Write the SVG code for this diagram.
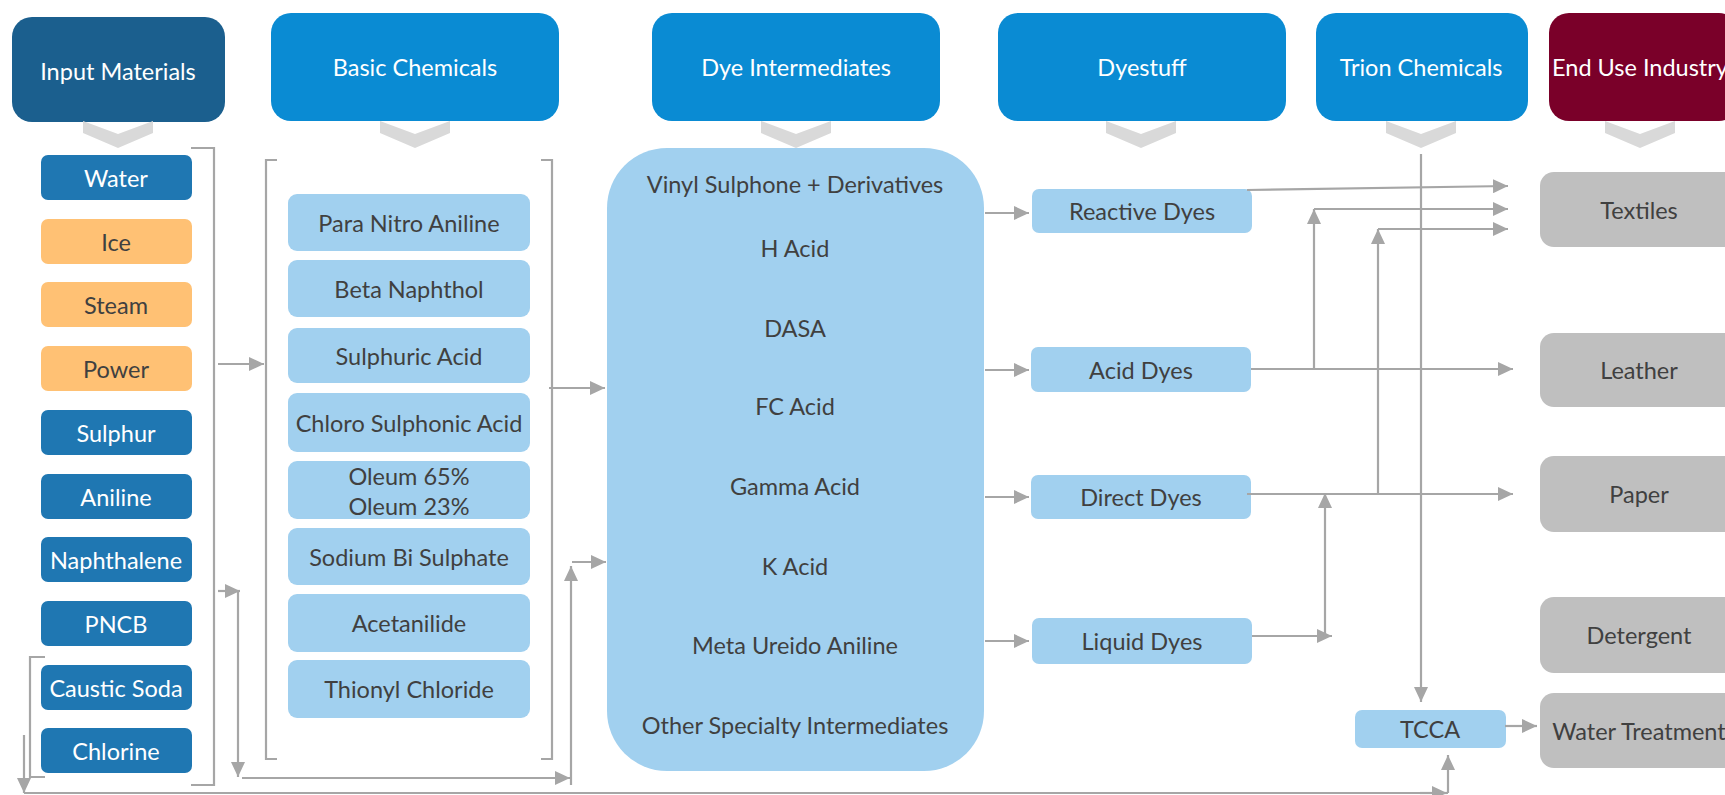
<svg xmlns="http://www.w3.org/2000/svg" width="1725" height="795" viewBox="0 0 1725 795">
<defs>
<style>
text{font-family:Lato,"Liberation Sans",sans-serif;font-size:23.5px;text-anchor:middle;dominant-baseline:central}
.hdr{fill:#ffffff}
.dk{fill:#404040}
.wt{fill:#ffffff}
.hb{fill:#0a8bd3}
.ib{fill:#1f77b2}
.or{fill:#ffc174}
.lb{fill:#a1d0ef}
.gr{fill:#bfbfbf}
.chev{fill:#d9d9d9}
.ln{fill:none;stroke:#a6a6a6;stroke-width:2.2}
.ar{fill:none;stroke:#a6a6a6;stroke-width:2.2;marker-end:url(#ah)}
</style>
<marker id="ah" markerUnits="userSpaceOnUse" markerWidth="16" markerHeight="14" refX="15" refY="7" orient="auto">
<path d="M0,0 L15,7 L0,14 z" fill="#a6a6a6"/>
</marker>
<polygon id="chv" points="0,0 35,13 70,0 70,12 35,27 0,12"/>
</defs>

<g id="headers">
<g id="h-input"><rect x="12" y="17" width="213" height="105" rx="20" fill="#1b5f8e"/><text x="118" y="71" class="hdr">Input Materials</text></g>
<g id="h-basic"><rect x="271" y="13" width="288" height="108" rx="20" class="hb"/><text x="415" y="67" class="hdr">Basic Chemicals</text></g>
<g id="h-dye"><rect x="652" y="13" width="288" height="108" rx="20" class="hb"/><text x="796" y="67" class="hdr">Dye Intermediates</text></g>
<g id="h-dyestuff"><rect x="998" y="13" width="288" height="108" rx="20" class="hb"/><text x="1142" y="67" class="hdr">Dyestuff</text></g>
<g id="h-trion"><rect x="1316" y="13" width="212" height="108" rx="20" class="hb"/><text x="1421" y="67" class="hdr">Trion Chemicals</text></g>
<g id="h-enduse"><rect x="1549" y="13" width="190" height="108" rx="20" fill="#7a0029"/><text x="1640" y="67" class="hdr">End Use Industry</text></g>
</g>

<g id="chevrons" class="chev">
<use href="#chv" x="83" y="121"/>
<use href="#chv" x="380" y="121"/>
<use href="#chv" x="761" y="121"/>
<use href="#chv" x="1106" y="121"/>
<use href="#chv" x="1386" y="121"/>
<use href="#chv" x="1605" y="121"/>
</g>

<g id="input-items">
<g id="water"><rect x="41" y="155" width="151" height="45" rx="7" class="ib"/><text x="116" y="177.5" class="wt">Water</text></g>
<g id="ice"><rect x="41" y="219" width="151" height="45" rx="7" class="or"/><text x="116" y="241.5" class="dk">Ice</text></g>
<g id="steam"><rect x="41" y="282" width="151" height="45" rx="7" class="or"/><text x="116" y="304.5" class="dk">Steam</text></g>
<g id="power"><rect x="41" y="346" width="151" height="45" rx="7" class="or"/><text x="116" y="368.5" class="dk">Power</text></g>
<g id="sulphur"><rect x="41" y="410" width="151" height="45" rx="7" class="ib"/><text x="116" y="432.5" class="wt">Sulphur</text></g>
<g id="aniline"><rect x="41" y="474" width="151" height="45" rx="7" class="ib"/><text x="116" y="496.5" class="wt">Aniline</text></g>
<g id="naphthalene"><rect x="41" y="537" width="151" height="45" rx="7" class="ib"/><text x="116" y="559.5" class="wt">Naphthalene</text></g>
<g id="pncb"><rect x="41" y="601" width="151" height="45" rx="7" class="ib"/><text x="116" y="623.5" class="wt">PNCB</text></g>
<g id="caustic"><rect x="41" y="665" width="151" height="45" rx="7" class="ib"/><text x="116" y="687.5" class="wt">Caustic Soda</text></g>
<g id="chlorine"><rect x="41" y="728" width="151" height="45" rx="7" class="ib"/><text x="116" y="750.5" class="wt">Chlorine</text></g>
</g>

<g id="basic-items">
<g id="pna"><rect x="288" y="194" width="242" height="57" rx="9" class="lb"/><text x="409" y="222.5" class="dk">Para Nitro Aniline</text></g>
<g id="beta"><rect x="288" y="260" width="242" height="57" rx="9" class="lb"/><text x="409" y="288.5" class="dk">Beta Naphthol</text></g>
<g id="sulphuric"><rect x="288" y="328" width="242" height="55" rx="9" class="lb"/><text x="409" y="355.5" class="dk">Sulphuric Acid</text></g>
<g id="chloro"><rect x="288" y="393" width="242" height="59" rx="9" class="lb"/><text x="409" y="422.5" class="dk">Chloro Sulphonic Acid</text></g>
<g id="oleum"><rect x="288" y="461" width="242" height="58" rx="9" class="lb"/><text x="409" y="476" class="dk">Oleum 65%</text><text x="409" y="506" class="dk">Oleum 23%</text></g>
<g id="sodium"><rect x="288" y="528" width="242" height="57" rx="9" class="lb"/><text x="409" y="556.5" class="dk">Sodium Bi Sulphate</text></g>
<g id="acetanilide"><rect x="288" y="594" width="242" height="58" rx="9" class="lb"/><text x="409" y="623" class="dk">Acetanilide</text></g>
<g id="thionyl"><rect x="288" y="660" width="242" height="58" rx="9" class="lb"/><text x="409" y="689" class="dk">Thionyl Chloride</text></g>
</g>

<g id="dye-intermediates">
<rect x="607" y="148" width="377" height="623" rx="60" class="lb"/>
<text x="795" y="184" class="dk">Vinyl Sulphone + Derivatives</text>
<text x="795" y="248" class="dk">H Acid</text>
<text x="795" y="328" class="dk">DASA</text>
<text x="795" y="406" class="dk">FC Acid</text>
<text x="795" y="486" class="dk">Gamma Acid</text>
<text x="795" y="566" class="dk">K Acid</text>
<text x="795" y="645" class="dk">Meta Ureido Aniline</text>
<text x="795" y="725" class="dk">Other Specialty Intermediates</text>
</g>

<g id="dyestuff-items">
<g id="reactive"><rect x="1032" y="189" width="220" height="44" rx="7" class="lb"/><text x="1142" y="211" class="dk">Reactive Dyes</text></g>
<g id="acid"><rect x="1031" y="347" width="220" height="45" rx="7" class="lb"/><text x="1141" y="369.5" class="dk">Acid Dyes</text></g>
<g id="direct"><rect x="1031" y="475" width="220" height="44" rx="7" class="lb"/><text x="1141" y="497" class="dk">Direct Dyes</text></g>
<g id="liquid"><rect x="1032" y="618" width="220" height="46" rx="7" class="lb"/><text x="1142" y="641" class="dk">Liquid Dyes</text></g>
</g>

<g id="tcca"><rect x="1355" y="710" width="151" height="38" rx="7" class="lb"/><text x="1430" y="729" class="dk">TCCA</text></g>

<g id="end-use">
<g id="textiles"><rect x="1540" y="172" width="200" height="75" rx="14" class="gr"/><text x="1639" y="209.5" class="dk">Textiles</text></g>
<g id="leather"><rect x="1540" y="333" width="200" height="74" rx="14" class="gr"/><text x="1639" y="370" class="dk">Leather</text></g>
<g id="paper"><rect x="1540" y="456" width="200" height="76" rx="14" class="gr"/><text x="1639" y="494" class="dk">Paper</text></g>
<g id="detergent"><rect x="1540" y="597" width="200" height="76" rx="14" class="gr"/><text x="1639" y="635" class="dk">Detergent</text></g>
<g id="water-treatment"><rect x="1540" y="693" width="200" height="75" rx="14" class="gr"/><text x="1639" y="730.5" class="dk">Water Treatment</text></g>
</g>

<g id="connectors">
<path class="ln" d="M191,148 H214 V785 H191"/>
<path class="ln" d="M277,160 H266 V759 H277"/>
<path class="ln" d="M541,160 H552 V759 H541"/>
<path class="ln" d="M45,657 H30 V777 H45"/>
<path class="ar" d="M218,364 H264"/>
<path class="ar" d="M549,388 H605"/>
<path class="ar" d="M218,591 H240"/>
<path class="ar" d="M238,591 V777"/>
<path class="ar" d="M242,778 H570"/>
<path class="ar" d="M571,785 V566"/>
<path class="ar" d="M572,562 H606"/>
<path class="ar" d="M24,735 V793"/>
<path class="ln" d="M24,793 H1448"/>
<path class="ar" d="M1420,793 H1447"/>
<path class="ar" d="M1448,793 V755"/>
<path class="ar" d="M985,213 H1029"/>
<path class="ar" d="M985,370 H1029"/>
<path class="ar" d="M985,497 H1029"/>
<path class="ar" d="M985,641 H1029"/>
<path class="ar" d="M1247,190 L1508,186"/>
<path class="ar" d="M1251,369 H1513"/>
<path class="ar" d="M1314,369 V209"/>
<path class="ar" d="M1314,209 H1508"/>
<path class="ar" d="M1247,494 H1513"/>
<path class="ar" d="M1378,494 V229"/>
<path class="ar" d="M1378,229 H1508"/>
<path class="ar" d="M1252,636 H1332"/>
<path class="ar" d="M1325,636 V493"/>
<path class="ar" d="M1421,154 V702"/>
<path class="ar" d="M1505,726 H1537"/>
</g>
</svg>
